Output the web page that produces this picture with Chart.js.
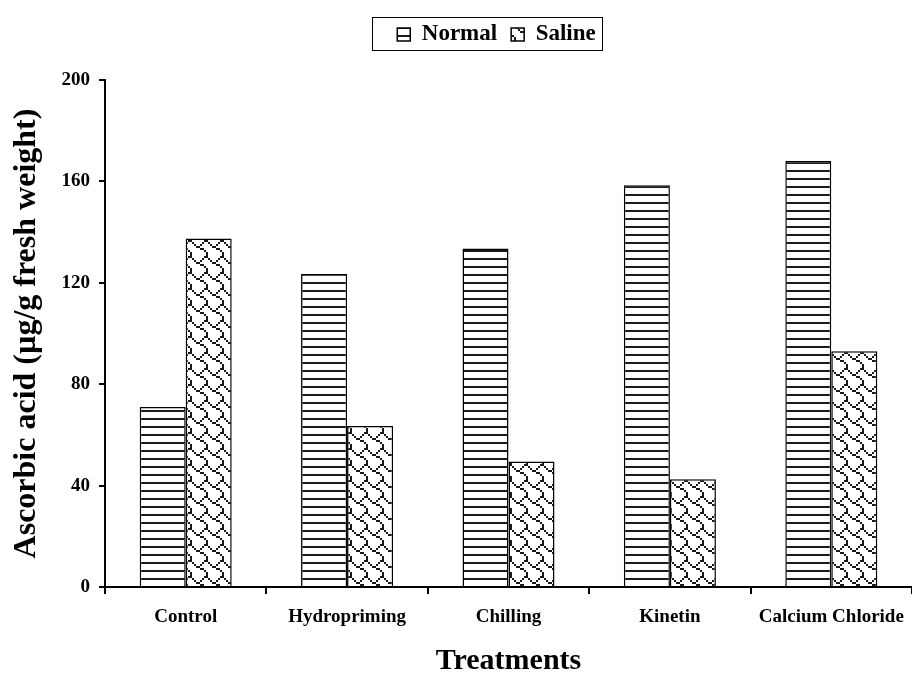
<!DOCTYPE html>
<html>
<head>
<meta charset="utf-8">
<script src="https://cdn.jsdelivr.net/npm/chart.js@4"></script>
<style>
  html, body { margin: 0; padding: 0; background: #fff; }
  #wrap { width: 912px; height: 677px; }
</style>
</head>
<body>
<div id="wrap"><canvas id="chart" width="912" height="677"></canvas></div>
<script>
const categories = ['Control', 'Hydropriming', 'Chilling', 'Kinetin', 'Calcium Chloride'];
const normalValues = [71, 123.5, 133.5, 158.5, 168];
const salineValues = [137.5, 63.5, 49.5, 42.5, 93];
const yTicks = [0, 40, 80, 120, 160, 200];

// 8x8 bitmaps drawn at 2x
const linesBits = [0x00, 0xff, 0x00, 0x00, 0x00, 0xff, 0x00, 0x00];
const shingleBits = [0x03, 0x84, 0x48, 0x30, 0x0c, 0x02, 0x01, 0x01];

function makePattern(bits, color) {
    let c = document.createElement('canvas');
    c.width = 16; c.height = 16;
    let g = c.getContext('2d');
    g.fillStyle = '#fff';
    g.fillRect(0, 0, 16, 16);
    g.fillStyle = color;
    for (let y = 0; y < 8; y++) {
        for (let x = 0; x < 8; x++) {
            if (bits[y] & (0x80 >> x)) g.fillRect(x * 2, y * 2, 2, 2);
        }
    }
    return g.createPattern(c, 'repeat');
}

// legend: fixed height, nudged into place, box around it
const legendBox = {
    id: 'legendBox',
    beforeLayout(chart) {
        let lg = chart.legend;
        if (lg && !lg._patched) {
            let fit = lg.fit;
            lg.fit = function () {
                fit.call(this);
                this.height = 80;
            };
            let draw = lg.draw;
            lg.draw = function () {
                this.ctx.save();
                this.ctx.translate(-12, 9);
                draw.call(this);
                this.ctx.restore();
            };
            lg._patched = true;
        }
    },
    afterDraw(chart) {
        let ctx = chart.ctx;
        ctx.save();
        ctx.strokeStyle = '#000';
        ctx.lineWidth = 1;
        ctx.strokeRect(372.5, 17.5, 230, 33);
        ctx.restore();
    }
};

const serif = 'Liberation Serif, Times New Roman, serif';

new Chart(document.getElementById('chart'), {
    type: 'bar',
    data: {
        labels: categories,
        datasets: [
            {
                label: 'Normal',
                data: normalValues,
                backgroundColor: makePattern(linesBits, '#1a1a1a'),
                borderColor: '#000',
                borderWidth: 1.5,
                categoryPercentage: 0.57,
                barPercentage: 1
            },
            {
                label: 'Saline',
                data: salineValues,
                backgroundColor: makePattern(shingleBits, '#1a1a1a'),
                borderColor: '#000',
                borderWidth: 1.5,
                categoryPercentage: 0.57,
                barPercentage: 1
            }
        ]
    },
    options: {
        responsive: false,
        animation: false,
        layout: { padding: 0 },
        plugins: {
            legend: {
                display: true,
                position: 'top',
                fullSize: false,
                labels: {
                    color: '#000',
                    font: { family: serif, size: 23, weight: 'bold' },
                    boxWidth: 13,
                    boxHeight: 13,
                    padding: 14
                }
            },
            tooltip: { enabled: false }
        },
        scales: {
            x: {
                grid: { drawOnChartArea: false, drawTicks: true, tickLength: 7, color: '#000', lineWidth: 2 },
                border: { color: '#000', width: 2 },
                ticks: {
                    color: '#000',
                    font: { family: serif, size: 19, weight: 'bold' },
                    padding: 12,
                    maxRotation: 0
                },
                title: {
                    display: true,
                    text: 'Treatments',
                    color: '#000',
                    font: { family: serif, size: 30, weight: 'bold' },
                    padding: { top: 0, bottom: -2 }
                },
                afterFit: function (scale) {
                    scale.height = 90;
                    scale.paddingLeft = 0;
                    scale.paddingRight = 0;
                }
            },
            y: {
                min: 0,
                max: 200,
                afterBuildTicks: function (scale) {
                    scale.ticks = yTicks.map(v => ({ value: v }));
                },
                grid: { drawOnChartArea: false, drawTicks: true, tickLength: 6, color: '#000', lineWidth: 2 },
                border: { color: '#000', width: 2 },
                ticks: {
                    color: '#000',
                    font: { family: serif, size: 19, weight: 'bold' },
                    padding: 9
                },
                title: {
                    display: true,
                    text: 'Ascorbic acid (µg/g fresh weight)',
                    color: '#000',
                    font: { family: serif, size: 32, weight: 'bold' },
                    padding: { top: 8, bottom: 0 }
                },
                afterFit: function (scale) { scale.width = 105; }
            }
        }
    },
    plugins: [legendBox]
});
</script>
</body>
</html>
